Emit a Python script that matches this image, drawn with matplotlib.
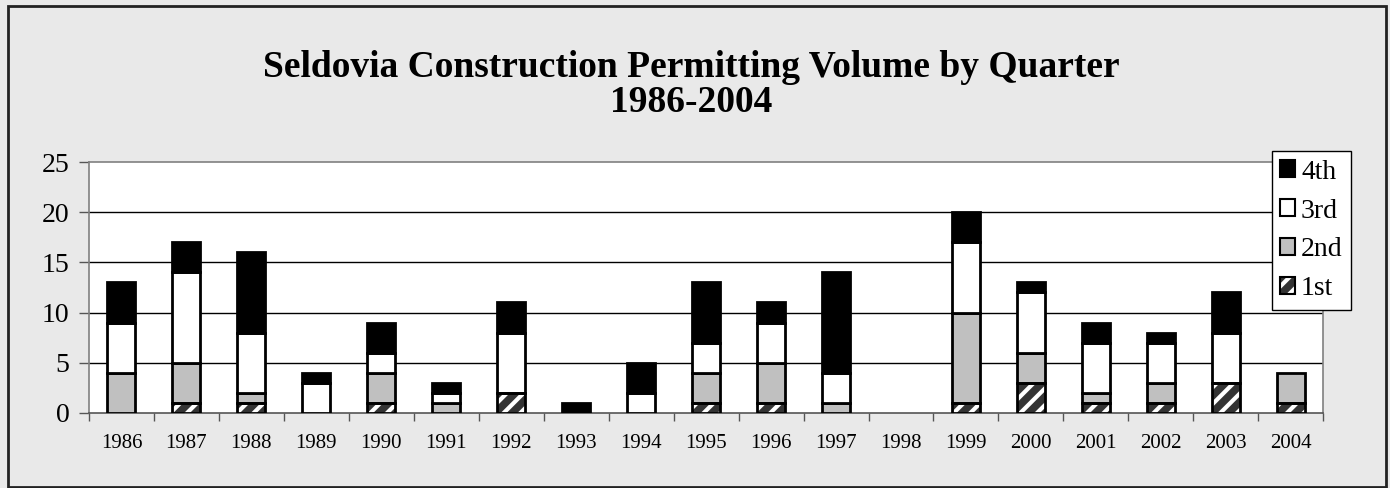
import numpy as np
import matplotlib.pyplot as plt
from matplotlib.patches import Patch, Rectangle

# Permits issued per quarter, 1986-2004
years = [1986, 1987, 1988, 1989, 1990, 1991, 1992, 1993, 1994, 1995,
         1996, 1997, 1998, 1999, 2000, 2001, 2002, 2003, 2004]
q1 = [0, 1, 1, 0, 1, 0, 2, 0, 0, 1, 1, 0, 0, 1, 3, 1, 1, 3, 1]
q2 = [4, 4, 1, 0, 3, 1, 0, 0, 0, 3, 4, 1, 0, 9, 3, 1, 2, 0, 3]
q3 = [5, 9, 6, 3, 2, 1, 6, 0, 2, 3, 4, 3, 0, 7, 6, 5, 4, 5, 0]
q4 = [4, 3, 8, 1, 3, 1, 3, 1, 3, 6, 2, 10, 0, 3, 1, 2, 1, 4, 0]

plt.rcParams['font.family'] = ['Liberation Serif', 'DejaVu Serif']
plt.rcParams['hatch.linewidth'] = 3.0

fig = plt.figure(figsize=(13.9, 4.88), dpi=100)
fig.patch.set_facecolor('#e9e9e9')
fig.patches.append(Rectangle((0.0055, 0.002), 0.9915, 0.985, transform=fig.transFigure,
                             fill=False, edgecolor='#222222', linewidth=2.0))

ax = fig.add_axes([0.064, 0.154, 0.888, 0.514])
ax.set_facecolor('white')

x = np.arange(len(years))
w = 0.43
q1 = np.array(q1); q2 = np.array(q2); q3 = np.array(q3); q4 = np.array(q4)
ec = 'black'
lw = 2.0


def stack(vals, bottom, **kw):
    # skip empty segments so no stray outlines show at zero
    m = vals > 0
    ax.bar(x[m], vals[m], w, bottom=bottom[m], **kw)


zero = np.zeros_like(q1)
# 1st quarter: dark fill with white diagonal stripes, outline drawn on top
stack(q1, zero, color='#333333', edgecolor='white', hatch='//', linewidth=0, zorder=3)
stack(q1, zero, fill=False, edgecolor=ec, linewidth=lw, zorder=4)
stack(q2, q1, color='#c0c0c0', edgecolor=ec, linewidth=lw, zorder=3)
stack(q3, q1 + q2, color='white', edgecolor=ec, linewidth=lw, zorder=3)
stack(q4, q1 + q2 + q3, color='black', edgecolor=ec, linewidth=lw, zorder=3)

ax.set_xlim(-0.5, len(years) - 0.5)
ax.set_ylim(0, 25)
ax.set_yticks([0, 5, 10, 15, 20, 25])
ax.set_xticks(x)
ax.set_xticklabels([str(y) for y in years], fontsize=15)
ax.set_xticks(np.arange(-0.5, len(years), 1.0), minor=True)
ax.tick_params(axis='x', which='major', length=0, pad=15)
ax.tick_params(axis='x', which='minor', length=6, width=1, color='#555555', direction='out')
ax.tick_params(axis='y', length=7, width=1, color='#555555', labelsize=20, pad=7)

for y in [5, 10, 15, 20]:
    ax.axhline(y, color='black', linewidth=1.0, zorder=1)
for s in ax.spines.values():
    s.set_color('#808080')
    s.set_linewidth(1.2)
ax.spines['bottom'].set_color('#555555')

fig.text(0.497, 0.826, 'Seldovia Construction Permitting Volume by Quarter\n1986-2004',
         ha='center', va='center', fontsize=27, fontweight='bold', linespacing=1.03)

h1 = (Patch(facecolor='#333333', edgecolor='white', hatch='//', linewidth=0),
      Patch(fill=False, edgecolor='black', linewidth=1.5))
handles = [Patch(facecolor='black', edgecolor='black', linewidth=1.5),
           Patch(facecolor='white', edgecolor='black', linewidth=1.5),
           Patch(facecolor='#c0c0c0', edgecolor='black', linewidth=1.5),
           h1]
leg = fig.legend(handles, ['4th', '3rd', '2nd', '1st'], loc='upper left',
                 bbox_to_anchor=(0.915, 0.69), frameon=True, fancybox=False,
                 edgecolor='black', facecolor='white', framealpha=1,
                 fontsize=20, handlelength=0.55, handleheight=0.55,
                 handletextpad=0.2, labelspacing=0.5, borderpad=0.3,
                 borderaxespad=0)
leg.get_frame().set_linewidth(1.0)

fig.savefig('out.png', dpi=100, facecolor=fig.get_facecolor())
